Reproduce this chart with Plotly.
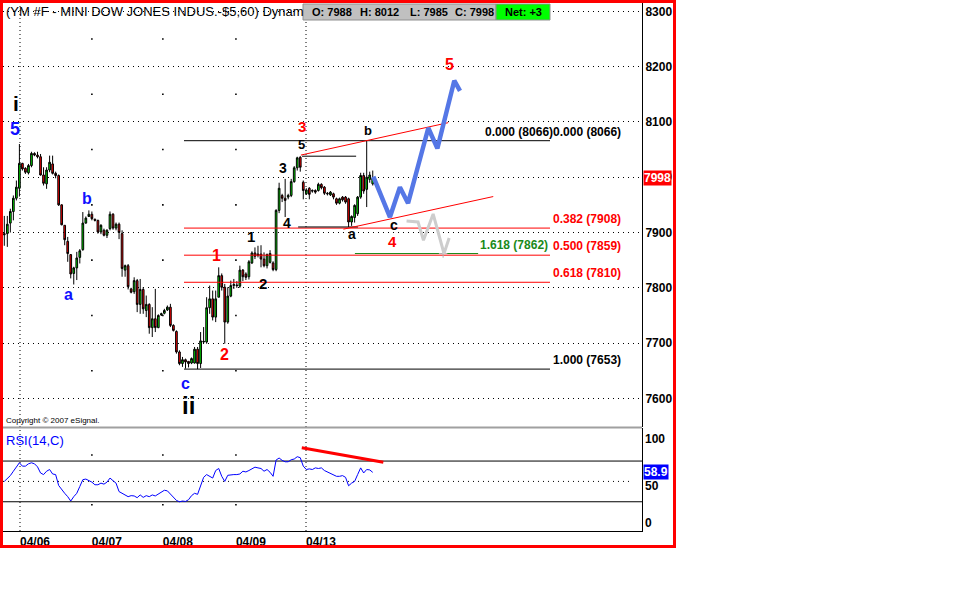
import plotly.graph_objects as go

FONT = "Liberation Sans, Arial, sans-serif"

# ---------------- data (60-minute bars, YM #F) ----------------
opens = [7898, 7898, 7917, 7938, 7962, 7980, 8025, 8016, 8008, 8021,
         8043, 8040, 8037, 8004, 7988, 8013, 8024, 8007, 8003, 7950,
         7913, 7884, 7860, 7826, 7836, 7855, 7869, 7917, 7929, 7933,
         7924, 7922, 7901, 7904, 7895, 7907, 7933, 7908, 7915, 7898,
         7832, 7840, 7798, 7793, 7813, 7770, 7797, 7759, 7770, 7728,
         7744, 7728, 7751, 7754, 7760, 7765, 7732, 7721, 7684, 7663,
         7670, 7667, 7664, 7664, 7689, 7663, 7702, 7702, 7764, 7780,
         7747, 7783, 7822, 7801, 7738, 7785, 7804, 7805, 7803, 7832,
         7825, 7820, 7845, 7863, 7861, 7861, 7852, 7840, 7846, 7845,
         7833, 7940, 7967, 7962, 7964, 7967, 7992, 8017, 8036, 7991,
         7970, 7980, 7976, 7976, 7976, 7987, 7982, 7971, 7968, 7970,
         7961, 7953, 7964, 7964, 7961, 7919, 7927, 7934, 7964, 8003,
         7978, 7996, 7988]
highs = [7930, 7930, 7943, 7967, 7994, 8060, 8026, 8018, 8024, 8046,
         8045, 8046, 8042, 8018, 8018, 8039, 8039, 8010, 8005, 7951,
         7913, 7892, 7861, 7838, 7865, 7870, 7937, 7929, 7940, 7938,
         7925, 7923, 7915, 7907, 7906, 7938, 7935, 7918, 7918, 7904,
         7842, 7843, 7800, 7819, 7816, 7816, 7801, 7786, 7772, 7765,
         7798, 7752, 7755, 7762, 7768, 7771, 7734, 7723, 7687, 7675,
         7672, 7667, 7674, 7693, 7693, 7720, 7729, 7783, 7804, 7795,
         7795, 7837, 7826, 7807, 7801, 7813, 7816, 7812, 7840, 7834,
         7828, 7850, 7866, 7873, 7876, 7877, 7864, 7862, 7868, 7848,
         7942, 7990, 7970, 7997, 7970, 7997, 8020, 8037, 8038, 7994,
         7980, 7982, 7978, 7978, 7990, 7989, 7984, 7973, 7975, 7972,
         7963, 7963, 7966, 7966, 7963, 7931, 7951, 7966, 8008, 8008,
         8066, 8010, 8012]
lows = [7876, 7874, 7900, 7922, 7958, 7965, 8012, 8006, 8005, 8018,
        8038, 8034, 8003, 7985, 7979, 8009, 8005, 7998, 7948, 7913,
        7877, 7847, 7817, 7806, 7814, 7844, 7867, 7916, 7928, 7922,
        7920, 7898, 7897, 7893, 7890, 7904, 7905, 7904, 7888, 7820,
        7820, 7797, 7790, 7789, 7756, 7753, 7753, 7747, 7717, 7711,
        7720, 7727, 7749, 7752, 7758, 7729, 7721, 7681, 7660, 7657,
        7654, 7656, 7662, 7663, 7653, 7655, 7700, 7699, 7753, 7741,
        7738, 7783, 7795, 7699, 7735, 7783, 7798, 7800, 7800, 7812,
        7814, 7815, 7843, 7852, 7855, 7837, 7837, 7835, 7844, 7830,
        7830, 7935, 7955, 7928, 7960, 7964, 7990, 8012, 8010, 7960,
        7968, 7960, 7972, 7970, 7974, 7978, 7968, 7967, 7966, 7960,
        7950, 7951, 7956, 7952, 7910, 7912, 7918, 7930, 7961, 7970,
        7946, 7990, 7985]
closes = [7896, 7915, 7938, 7962, 7982, 8025, 8015, 8009, 8021, 8043,
          8040, 8037, 8004, 7989, 8013, 8027, 8007, 8003, 7950, 7914,
          7887, 7862, 7825, 7836, 7854, 7867, 7917, 7926, 7933, 7925,
          7922, 7901, 7913, 7895, 7904, 7933, 7908, 7915, 7900, 7835,
          7840, 7802, 7792, 7813, 7770, 7797, 7762, 7770, 7728, 7744,
          7728, 7750, 7753, 7759, 7765, 7732, 7723, 7684, 7663, 7670,
          7666, 7663, 7672, 7689, 7663, 7704, 7703, 7764, 7780, 7747,
          7780, 7822, 7801, 7738, 7785, 7804, 7806, 7804, 7832, 7820,
          7819, 7847, 7863, 7857, 7859, 7852, 7840, 7860, 7862, 7833,
          7940, 7980, 7962, 7958, 7967, 7992, 8017, 8035, 8018, 7976,
          7977, 7969, 7975, 7973, 7987, 7981, 7971, 7970, 7973, 7964,
          7953, 7961, 7959, 7955, 7919, 7929, 7949, 7964, 8003, 7975,
          8000, 8004, 7998]
rsi = [50, 52.7, 55.7, 60, 64.7, 68.3, 65, 65, 67.3, 68.3,
       67.3, 64.3, 58.3, 56.7, 60, 61.7, 57.3, 56.7, 46, 41.7,
       38.3, 35, 30.7, 35, 38.3, 45, 51.7, 52.3, 50.7, 49.3,
       46.7, 46.7, 48.3, 47.3, 49.3, 53.3, 50.7, 48.3, 40, 38.3,
       37.3, 35, 36, 35.7, 34, 36.7, 34.3, 36, 35, 36.7,
       35.7, 37.7, 39.3, 41.3, 40.7, 37.3, 35, 31.3, 30, 30.7,
       30.3, 32, 36, 38.3, 37.3, 46.7, 54, 56.7, 55, 53.3,
       60.7, 62.7, 55, 50, 56, 56.7, 56.7, 56.7, 57.3, 60,
       59.3, 60.7, 62.3, 64, 63.3, 62.7, 60, 61.7, 59, 55,
       71, 73, 70.7, 69.3, 69.3, 71.3, 72, 74.3, 73.3, 65,
       61.7, 62.3, 61.7, 63.3, 62.7, 63.3, 60.7, 59.3, 58.3, 56.7,
       55, 55, 55.7, 54, 45.7, 48.3, 50, 56.7, 63.3, 58.3,
       61.7, 61.3, 58.9]
bars = list(range(len(closes)))

day_starts = [5.2, 29.0, 52.5, 76.7, 99.9]
day_labels = ["04/06", "04/07", "04/08", "04/09", "04/13"]
week_starts = [5.2, 99.9]
minor_days = [29.0, 52.5, 76.7]
minor_price_levels = [7650, 7750, 7850, 7950, 8050, 8150, 8250]
minor_rsi_levels = [76, 27]
price_ticks = [7600, 7700, 7800, 7900, 8000, 8100, 8200, 8300]

fib_levels = [8066, 7908, 7859, 7810, 7653]
fib_labels = ["0.000 (8066)0.000 (8066)", "0.382 (7908)", "0.500 (7859)",
              "0.618 (7810)", "1.000 (7653)"]
fib_colors = ["#000000", "#ff0000", "#ff0000", "#ff0000", "#000000"]
fib_x = [59.5, 180.7]
fib_label_x = 205.0
ext_level = 7862
ext_label = "1.618 (7862)"
ext_x = [116.1, 156.9]
ext_label_x = 180.7
ext_mark_x = 145.3

w3_top_x, w3_top_y = [98.6, 116.5], [8038, 8038]
w4_x, w4_y = [97.3, 117.1], [7910, 7910]
upper_x, upper_y = [98.2, 147.0], [8040, 8098.6]
lower_x, lower_y = [112.3, 161.9], [7906, 7965]
proj_x = [122.2, 127.7, 131.0, 133.7, 140.4, 143.4, 149.0, 150.9]
proj_y = [8001, 7928, 7982, 7953, 8089, 8052, 8174.5, 8156]
alt_x = [133.2, 137.0, 138.8, 142.0, 145.6, 147.3]
alt_y = [7921, 7919, 7886, 7933.5, 7862, 7890]
rsi_div_x, rsi_div_y = [98.5, 125.5], [83.1, 68.8]

wave_text = ["i", "5", "b", "a", "c", "ii", "1", "2", "1", "2", "3", "4", "5",
             "3", "b", "a", "c", "4", "5"]
wave_x = [3.8, 3.5, 27.3, 21.2, 60.1, 60.9, 70.1, 72.8, 81.6, 85.8, 92.4, 93.5,
          98.5, 98.5, 120.5, 115.2, 129.1, 128.6, 147.3]
wave_y = [8133.6, 8088, 7962, 7787, 7626.6, 7588, 7858.4, 7680, 7892, 7808,
          8016, 7916.6, 8059, 8091, 8085, 7897, 7913.6, 7883, 8203]
wave_color = ["#000000", "#1010ff", "#1010ff", "#1010ff", "#1010ff", "#000000",
              "#ff0000", "#ff0000", "#000000", "#000000", "#000000", "#000000",
              "#000000", "#ff0000", "#000000", "#000000", "#000000", "#ff0000",
              "#ff0000"]
wave_size = [21, 18, 16, 16, 16, 24, 16, 16, 15, 15, 14, 14, 13, 15, 13, 14, 14, 15, 16]

title_text = "(YM #F - MINI DOW JONES INDUS.-$5,60) Dynam"
net_text = "Net: +3"
last_rsi = rsi[-1]

# ---------------- geometry helpers (pixels -> paper) ----------------
PL, PR, PT, PB = 3, 642, 3, 531
def px(x):
    return (x - PL) / (PR - PL)
def py(y):
    return (PB - y) / (PB - PT)

fig = go.Figure()

fig.add_trace(go.Candlestick(
    x=bars, open=opens, high=highs, low=lows, close=closes,
    increasing=dict(fillcolor="#00e000", line=dict(color="#000000", width=1)),
    decreasing=dict(fillcolor="#ff0000", line=dict(color="#000000", width=1)),
    whiskerwidth=0, showlegend=False, hoverinfo="skip", xaxis="x", yaxis="y"))

# minor grid dots
mx, my = [], []
for d in minor_days:
    for lv in minor_price_levels:
        mx.append(d); my.append(lv)
fig.add_trace(go.Scatter(x=mx, y=my, mode="markers", yaxis="y",
                         marker=dict(symbol="square", size=1.6, color="#000000"),
                         showlegend=False, hoverinfo="skip"))
rx, ry = [], []
for d in minor_days:
    for lv in minor_rsi_levels:
        rx.append(d); ry.append(lv)
fig.add_trace(go.Scatter(x=rx, y=ry, mode="markers", yaxis="y2",
                         marker=dict(symbol="square", size=1.6, color="#000000"),
                         showlegend=False, hoverinfo="skip"))

# fib lines
for lv, col in zip(fib_levels, fib_colors):
    fig.add_trace(go.Scatter(x=fib_x, y=[lv, lv], mode="lines", yaxis="y",
                             line=dict(color=col, width=1), showlegend=False, hoverinfo="skip"))
fig.add_trace(go.Scatter(x=ext_x, y=[ext_level, ext_level], mode="lines", yaxis="y",
                         line=dict(color="#1a8a1a", width=1), showlegend=False, hoverinfo="skip"))
fig.add_trace(go.Scatter(x=[ext_mark_x], y=[ext_level], mode="markers", yaxis="y",
                         marker=dict(symbol="cross-thin", size=6, color="#b0b0b0",
                                     line=dict(color="#b0b0b0", width=1)),
                         showlegend=False, hoverinfo="skip"))
fig.add_trace(go.Scatter(x=w3_top_x, y=w3_top_y, mode="lines", yaxis="y",
                         line=dict(color="#000000", width=1), showlegend=False, hoverinfo="skip"))
fig.add_trace(go.Scatter(x=w4_x, y=w4_y, mode="lines", yaxis="y",
                         line=dict(color="#000000", width=1), showlegend=False, hoverinfo="skip"))
# wedge lines
for xs, ys in [(upper_x, upper_y), (lower_x, lower_y)]:
    fig.add_trace(go.Scatter(x=xs, y=ys, mode="lines", yaxis="y",
                             line=dict(color="#ff0000", width=1), showlegend=False, hoverinfo="skip"))
# projected paths
fig.add_trace(go.Scatter(x=alt_x, y=alt_y, mode="lines", yaxis="y",
                         line=dict(color="#cdcdcd", width=3), showlegend=False, hoverinfo="skip"))
fig.add_trace(go.Scatter(x=proj_x, y=proj_y, mode="lines", yaxis="y",
                         line=dict(color="#5577e6", width=4.5), showlegend=False, hoverinfo="skip"))

# RSI
fig.add_trace(go.Scatter(x=bars, y=rsi, mode="lines", yaxis="y2",
                         line=dict(color="#0000ff", width=1), showlegend=False, hoverinfo="skip"))
fig.add_trace(go.Scatter(x=rsi_div_x, y=rsi_div_y, mode="lines", yaxis="y2",
                         line=dict(color="#ff0000", width=3), showlegend=False, hoverinfo="skip"))

shapes = []
for w in week_starts:
    shapes.append(dict(type="line", xref="x", yref="paper", x0=w, x1=w, y0=0, y1=1,
                       line=dict(color="#000000", width=1, dash="1px,3px"), layer="below"))
for lv in [70, 30]:
    shapes.append(dict(type="line", xref="paper", yref="y2", x0=0, x1=1, y0=lv, y1=lv,
                       line=dict(color="#000000", width=1), layer="below"))
shapes.append(dict(type="line", xref="paper", yref="y2", x0=0, x1=px(632), y0=50, y1=50,
                   line=dict(color="#000000", width=1, dash="1px,4px"), layer="below"))
# panel separator
shapes.append(dict(type="line", xref="paper", yref="paper", x0=0, x1=1, y0=py(427.5), y1=py(427.5),
                   line=dict(color="#a0a0a0", width=2)))
# header boxes
shapes.append(dict(type="rect", xref="paper", yref="paper", x0=px(303), x1=px(496),
                   y0=py(20), y1=py(4), fillcolor="#c0c0c0", line=dict(color="#909090", width=1)))
shapes.append(dict(type="rect", xref="paper", yref="paper", x0=px(496), x1=px(550),
                   y0=py(20), y1=py(4), fillcolor="#00ff00", line=dict(color="#909090", width=1)))
# outer red frame
shapes.append(dict(type="rect", xref="paper", yref="paper", x0=px(1.5), x1=px(674.5),
                   y0=py(546.5), y1=py(1.5), line=dict(color="#ff0000", width=3)))

ann = []
for t, x, y, c, s in zip(wave_text, wave_x, wave_y, wave_color, wave_size):
    ann.append(dict(text=t, x=x, y=y, xref="x", yref="y", showarrow=False,
                    font=dict(family=FONT, size=s, color=c, weight="bold")))
for lv, t, c in zip(fib_levels, fib_labels, fib_colors):
    ann.append(dict(text=t, x=fib_label_x, y=lv, xref="x", yref="y", showarrow=False,
                    xanchor="right", yanchor="bottom", yshift=0,
                    font=dict(family=FONT, size=12, color=c, weight="bold")))
ann.append(dict(text=ext_label, x=ext_label_x, y=ext_level, xref="x", yref="y",
                showarrow=False, xanchor="right", yanchor="bottom",
                font=dict(family=FONT, size=12, color="#1a8a1a", weight="bold")))
# header
ann.append(dict(text=title_text, x=px(4), y=py(11.5), xref="paper", yref="paper",
                showarrow=False, xanchor="left", yanchor="middle",
                font=dict(family=FONT, size=13, color="#000000")))
hdr = [("O: %d" % opens[-1], 310), ("H: %d" % highs[-1], 358),
       ("L: %d" % lows[-1], 408), ("C: %d" % closes[-1], 453), (net_text, 503)]
for t, x in hdr:
    ann.append(dict(text=t, x=px(x), y=py(12), xref="paper", yref="paper",
                    showarrow=False, xanchor="left", yanchor="middle",
                    font=dict(family=FONT, size=11, color="#000000", weight="bold")))
ann.append(dict(text="Copyright © 2007 eSignal.", x=px(4), y=py(420), xref="paper", yref="paper",
                showarrow=False, xanchor="left", yanchor="middle",
                font=dict(family=FONT, size=8, color="#000000")))
ann.append(dict(text="RSI(14,C)", x=px(4), y=py(440), xref="paper", yref="paper",
                showarrow=False, xanchor="left", yanchor="middle",
                font=dict(family=FONT, size=13, color="#0000ff")))
for t, yy in [("100", 439), ("50", 486), ("0", 522.5)]:
    ann.append(dict(text=t, x=1, y=py(yy), xref="paper", yref="paper", xshift=1,
                    showarrow=False, xanchor="left", yanchor="middle",
                    font=dict(family=FONT, size=12, color="#000000", weight="bold")))
ann.append(dict(text="%.1f" % last_rsi, x=1, y=last_rsi, xref="paper", yref="y2", xshift=1,
                showarrow=False, xanchor="left", yanchor="middle", bgcolor="#0000ff", borderpad=0,
                font=dict(family=FONT, size=12, color="#ffffff", weight="bold")))
ann.append(dict(text="%d" % closes[-1], x=1, y=closes[-1], xref="paper", yref="y", xshift=1,
                showarrow=False, xanchor="left", yanchor="middle", bgcolor="#ff0000", borderpad=0,
                font=dict(family=FONT, size=12, color="#ffffff", weight="bold")))

fig.update_layout(
    width=960, height=600,
    margin=dict(l=PL, r=960 - PR, t=PT, b=600 - PB, pad=0),
    paper_bgcolor="#ffffff", plot_bgcolor="#ffffff",
    showlegend=False, boxgap=0.2,
    shapes=shapes, annotations=ann,
    xaxis=dict(range=[-0.43, 211.16], anchor="y2", tickvals=day_starts, ticktext=day_labels,
               ticklabelshift=15, ticks="", showgrid=False, zeroline=False,
               showline=True, linecolor="#000000", linewidth=1,
               tickfont=dict(family=FONT, size=12, color="#000000", weight="bold"),
               rangeslider=dict(visible=False), fixedrange=True),
    yaxis=dict(domain=[py(427), 1], range=[7548.3, 8315], side="right", anchor="x",
               tickvals=price_ticks, ticks="", showgrid=True, gridcolor="#000000",
               griddash="1px,4px", gridwidth=1, zeroline=False,
               showline=True, linecolor="#000000", linewidth=1,
               tickfont=dict(family=FONT, size=12, color="#000000", weight="bold"),
               fixedrange=True),
    yaxis2=dict(domain=[0, py(428)], range=[1.25, 102.5], side="right", anchor="x",
                showticklabels=False, ticks="", showgrid=False, zeroline=False,
                showline=True, linecolor="#000000", linewidth=1, fixedrange=True),
)

fig.write_html("out.html", config={"displayModeBar": False, "staticPlot": True},
               post_script="document.body.style.margin='0';document.body.style.padding='0';")
